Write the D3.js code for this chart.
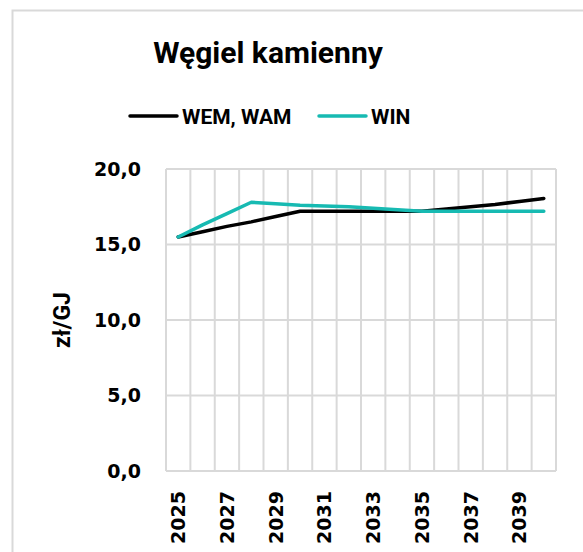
<!DOCTYPE html>
<html lang="pl">
<head>
  <meta charset="utf-8">
  <title>Węgiel kamienny</title>
  <script src="https://cdn.jsdelivr.net/npm/d3@7"></script>
  <style>
    body { margin: 0; background: #fff; }
    text { font-family: Roboto, "Noto Sans", sans-serif; font-weight: bold; fill: #000; }
    text.num { font-family: "DejaVu Sans", sans-serif; font-size: 19px; }
  </style>
</head>
<body>
  <div id="chart"></div>
  <script>
    "use strict"

    // dane
    const lata = d3.range(2025, 2041);
    const wemWam = [15.5, 15.85, 16.2, 16.5, 16.85, 17.2, 17.2, 17.2, 17.2, 17.2, 17.2, 17.35, 17.5, 17.65, 17.85, 18.05];
    const win = [15.5, 16.3, 17.05, 17.8, 17.7, 17.6, 17.55, 17.5, 17.4, 17.3, 17.2, 17.2, 17.2, 17.2, 17.2, 17.2];
    const yTicks = [0, 5, 10, 15, 20];
    const serie = [
      { nazwa: "WEM, WAM", wartosci: wemWam, kolor: "#000000" },
      { nazwa: "WIN", wartosci: win, kolor: "#17bab2" }
    ];

    const W = 583, H = 552;
    const margin = { top: 169, left: 166, right: 27, bottom: 81 };
    const szer = W - margin.left - margin.right,
          wys = H - margin.top - margin.bottom;

    const svg = d3.select("#chart").append("svg")
      .attr("width", W).attr("height", H);

    // ramka wykresu
    svg.append("rect")
      .attr("x", 12.5).attr("y", 10.5)
      .attr("width", 700).attr("height", 700)
      .attr("fill", "none").attr("stroke", "#d9d9d9").attr("stroke-width", 2);

    svg.append("text")
      .attr("x", 268).attr("y", 63)
      .attr("text-anchor", "middle")
      .style("font-size", "30px")
      .text("Węgiel kamienny");

    const g = svg.append("g")
      .attr("transform", "translate(" + margin.left + "," + margin.top + ")");

    const x = d3.scaleBand().domain(lata).range([0, szer]);
    const y = d3.scaleLinear().domain([0, 20]).range([wys, 0]);

    // siatka pionowa na granicach kategorii
    g.selectAll(".vgrid")
      .data(lata.concat([null]))
      .enter().append("line")
        .attr("x1", (d, i) => i * x.step())
        .attr("x2", (d, i) => i * x.step())
        .attr("y1", 0).attr("y2", wys)
        .attr("stroke", "#d9d9d9").attr("stroke-width", 2);

    // siatka pozioma
    g.selectAll(".hgrid")
      .data(yTicks)
      .enter().append("line")
        .attr("x1", 0).attr("x2", szer)
        .attr("y1", d => y(d)).attr("y2", d => y(d))
        .attr("stroke", "#d9d9d9").attr("stroke-width", 2);

    // etykiety osi Y
    g.selectAll(".ylab")
      .data(yTicks)
      .enter().append("text")
        .attr("class", "num")
        .attr("x", -25).attr("y", d => y(d))
        .attr("dy", "0.36em")
        .attr("text-anchor", "end")
        .text(d => d3.format(".1f")(d).replace(".", ","));

    // etykiety osi X (co drugi rok)
    g.selectAll(".xlab")
      .data(lata.filter((d, i) => i % 2 === 0))
      .enter().append("text")
        .attr("class", "num")
        .attr("transform", d => "translate(" + (x(d) + x.bandwidth() / 2) + "," + (wys + 20) + ") rotate(-90)")
        .attr("dy", "0.36em")
        .attr("text-anchor", "end")
        .text(d => d);

    g.append("text")
      .attr("transform", "translate(-104," + (wys / 2) + ") rotate(-90)")
      .attr("dy", "0.36em")
      .attr("text-anchor", "middle")
      .style("font-size", "23px")
      .text("zł/GJ");

    const linia = d3.line()
      .x((d, i) => x(lata[i]) + x.bandwidth() / 2)
      .y(d => y(d));

    g.selectAll(".seria")
      .data(serie)
      .enter().append("path")
        .attr("d", d => linia(d.wartosci))
        .attr("fill", "none")
        .attr("stroke", d => d.kolor)
        .attr("stroke-width", 3.5)
        .attr("stroke-linecap", "round")
        .attr("stroke-linejoin", "round");

    // legenda
    const legX = [130, 319];
    const leg = svg.selectAll(".leg")
      .data(serie)
      .enter().append("g")
        .attr("transform", (d, i) => "translate(" + legX[i] + ",116)");
    leg.append("line")
      .attr("x1", 0).attr("x2", 47)
      .attr("stroke", d => d.kolor).attr("stroke-width", 3.5)
      .attr("stroke-linecap", "round");
    leg.append("text")
      .attr("x", 52).attr("dy", "0.36em")
      .style("font-size", "21px")
      .text(d => d.nazwa);
  </script>
</body>
</html>
